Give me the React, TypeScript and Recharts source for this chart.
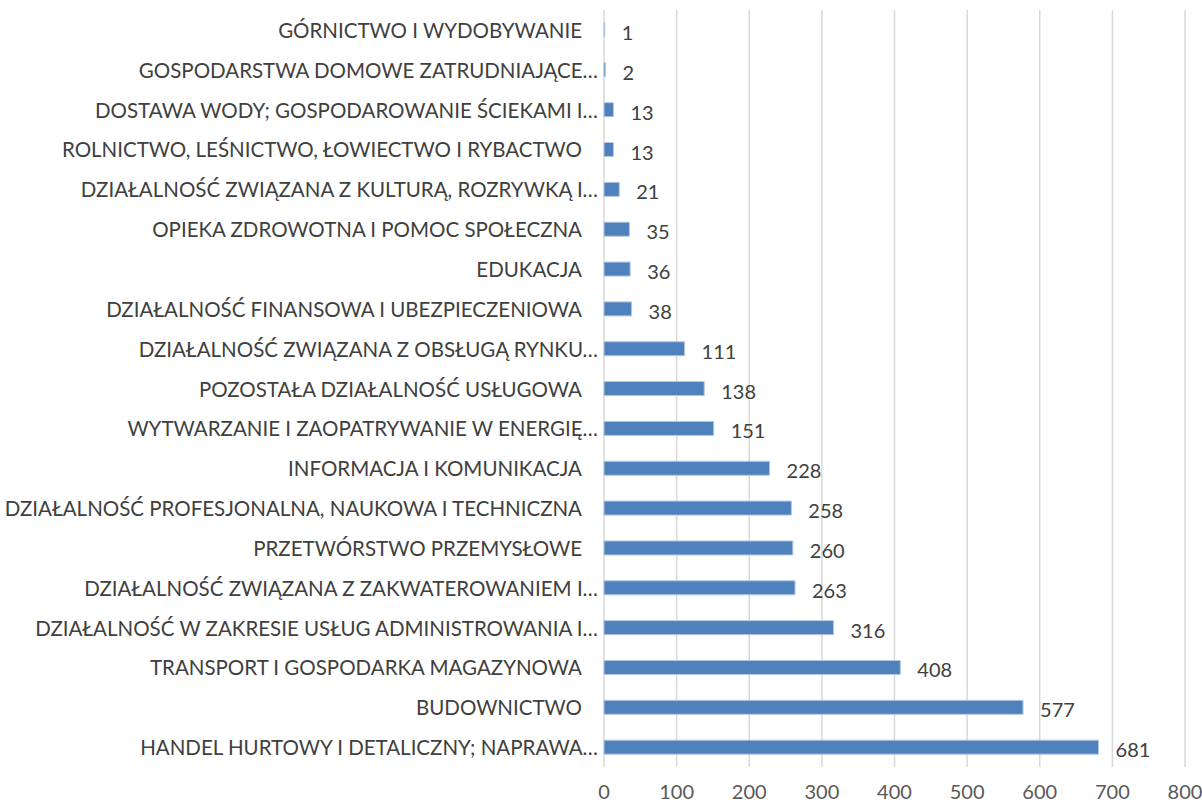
import React from "react";
import { BarChart, Bar, XAxis, YAxis, CartesianGrid, LabelList } from "recharts";

const categories = [
  "GÓRNICTWO I WYDOBYWANIE",
  "GOSPODARSTWA DOMOWE ZATRUDNIAJĄCE…",
  "DOSTAWA WODY; GOSPODAROWANIE ŚCIEKAMI I…",
  "ROLNICTWO, LEŚNICTWO, ŁOWIECTWO I RYBACTWO",
  "DZIAŁALNOŚĆ ZWIĄZANA Z KULTURĄ, ROZRYWKĄ I…",
  "OPIEKA ZDROWOTNA I POMOC SPOŁECZNA",
  "EDUKACJA",
  "DZIAŁALNOŚĆ FINANSOWA I UBEZPIECZENIOWA",
  "DZIAŁALNOŚĆ ZWIĄZANA Z OBSŁUGĄ RYNKU…",
  "POZOSTAŁA DZIAŁALNOŚĆ USŁUGOWA",
  "WYTWARZANIE I ZAOPATRYWANIE W ENERGIĘ…",
  "INFORMACJA I KOMUNIKACJA",
  "DZIAŁALNOŚĆ PROFESJONALNA, NAUKOWA I TECHNICZNA",
  "PRZETWÓRSTWO PRZEMYSŁOWE",
  "DZIAŁALNOŚĆ ZWIĄZANA Z ZAKWATEROWANIEM I…",
  "DZIAŁALNOŚĆ W ZAKRESIE USŁUG ADMINISTROWANIA I…",
  "TRANSPORT I GOSPODARKA MAGAZYNOWA",
  "BUDOWNICTWO",
  "HANDEL HURTOWY I DETALICZNY; NAPRAWA…",
];

const values = [1, 2, 13, 13, 21, 35, 36, 38, 111, 138, 151, 228, 258, 260, 263, 316, 408, 577, 681];

const xTicks = [0, 100, 200, 300, 400, 500, 600, 700, 800];

const data = categories.map((name, i) => ({ name, value: values[i] }));

const FONT = "Lato, 'Open Sans', sans-serif";

const CategoryTick = (props: any) => {
  const { x, y, payload } = props;
  const label: string = payload.value;
  const truncated = label.endsWith("…");
  return (
    <text
      x={truncated ? x + 2 : x - 14}
      y={y}
      textAnchor="end"
      dominantBaseline="central"
      fill="#404040"
      fontSize={20.5}
      fontFamily={FONT}
    >
      {label}
    </text>
  );
};

const ValueLabel = (props: any) => {
  const { x, y, width, height, value } = props;
  return (
    <text
      x={x + width + 17}
      y={y + height / 2 + 2}
      textAnchor="start"
      dominantBaseline="central"
      fill="#404040"
      fontSize={20}
      fontFamily={FONT}
    >
      {value}
    </text>
  );
};

export default function App() {
  return (
    <div style={{ position: "absolute", left: 0, top: 0, background: "#fff" }}>
      <BarChart
        width={1202}
        height={809}
        data={data}
        layout="vertical"
        margin={{ top: 10, right: 17, bottom: 0, left: 0 }}
        barCategoryGap={0}
      >
        <CartesianGrid horizontal={false} vertical={true} stroke="#d9d9d9" strokeWidth={1.5} />
        <XAxis
          type="number"
          domain={[0, 800]}
          ticks={xTicks}
          axisLine={false}
          tickLine={false}
          height={42}
          tick={{ fill: "#595959", fontSize: 20, fontFamily: FONT }}
          tickMargin={12}
          interval={0}
        />
        <YAxis
          type="category"
          dataKey="name"
          width={604}
          axisLine={false}
          tickLine={false}
          tick={<CategoryTick />}
          interval={0}
        />
        <Bar
          dataKey="value"
          fill="#4f81bd"
          stroke="#b3c7e3"
          strokeWidth={1}
          barSize={14}
          isAnimationActive={false}
        >
          <LabelList dataKey="value" content={<ValueLabel />} />
        </Bar>
      </BarChart>
    </div>
  );
}
